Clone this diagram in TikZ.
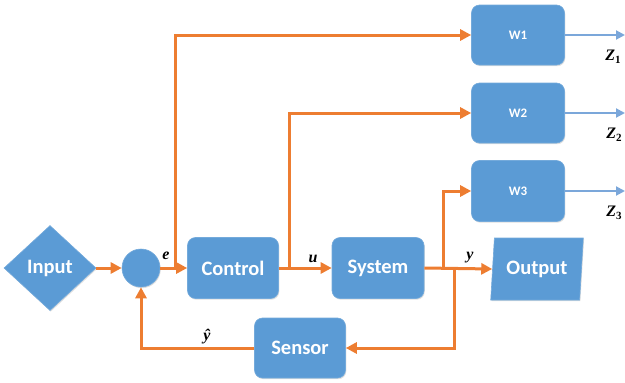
\documentclass[tikz,border=0pt]{standalone}
\usepackage{fontspec}
\setmainfont{Carlito}
\newfontfamily\labfont{Liberation Serif}
\usetikzlibrary{shapes.geometric,arrows.meta,shadows}
\definecolor{boxblue}{HTML}{5B9BD5}
\definecolor{lineorange}{HTML}{ED7D31}
\definecolor{zblue}{HTML}{7BA7DA}
\newcommand{\zsub}[1]{\raisebox{-3.5pt}{\fontsize{11}{11}\selectfont\upshape #1}}
\tikzset{
  blk/.style={fill=boxblue, draw=boxblue!85!white, line width=0.6pt, rounded corners=8pt,
    text=white, font=\fontsize{20.5}{22}\selectfont\bfseries,
    drop shadow={opacity=0.25, shadow xshift=0.8pt, shadow yshift=-1.2pt}},
  bigbox/.style={blk, minimum width=91pt, minimum height=61pt},
  wbox/.style={blk, minimum width=93pt, minimum height=60pt, font=\fontsize{13}{15}\selectfont\bfseries},
  oarrow/.style={draw=lineorange, line width=3pt, -{Triangle[length=11pt,width=11pt]}},
  zarrow/.style={draw=zblue, line width=2pt, -{Triangle[length=9pt,width=9pt]}},
  lab/.style={font=\labfont\fontsize{16}{18}\selectfont\bfseries\itshape, inner sep=0pt},
}
\begin{document}
\begin{tikzpicture}[x=1pt,y=-1pt]
\useasboundingbox (0,0) rectangle (625,383);
% nodes
\node[blk, shape=diamond, rounded corners=0pt, minimum width=92pt, minimum height=85pt, inner sep=0pt, aspect=1.08] (input) at (50,268) {Input};
\node[blk, shape=circle, rounded corners=0pt, minimum size=38pt, inner sep=0pt] (sum) at (141,268) {};
\node[bigbox] (control) at (233,268) {Control};
\node[bigbox, minimum width=92pt] (system) at (378,268) {System};
\node[blk, shape=trapezium, rounded corners=0pt, trapezium left angle=81, trapezium right angle=99, trapezium stretches=true, minimum width=93pt, minimum height=62pt, inner sep=0pt] (output) at (537,269) {Output};
\node[bigbox, minimum height=60pt] (sensor) at (300,348) {Sensor};
\node[wbox] (w1) at (518,35) {W1};
\node[wbox] (w2) at (518,113) {W2};
\node[wbox, minimum height=61pt] (w3) at (518,191) {W3};
% branch coordinates
\coordinate (b1) at (175,268);
\coordinate (b2) at (289,268);
\coordinate (b3) at (443,268);
\coordinate (b4) at (454,268);
\coordinate (z1) at (625,35);
\coordinate (z2) at (625,113);
\coordinate (z3) at (625,191);
% connectors
\draw[oarrow] (input.east) -- (sum.west);
\draw[oarrow] (sum.east) -- (control.west);
\draw[oarrow] (b1) |- (w1.west);
\draw[oarrow] (control.east) -- (system.west);
\draw[oarrow] (b2) |- (w2.west);
\draw[oarrow] (system.east) -- (output.west);
\draw[oarrow] (b3) |- (w3.west);
\draw[oarrow] (b4) |- (sensor.east);
\draw[oarrow] (sensor.west) -| (sum.south);
\draw[zarrow] (w1.east) -- (z1);
\draw[zarrow] (w2.east) -- (z2);
\draw[zarrow] (w3.east) -- (z3);
% labels
\node[lab] (le) at (166,256) {e};
\node[lab] (lu) at (313,259) {u};
\node[lab] (ly) at (470,258) {y};
\node[lab] (lyh) at (207,337) {ŷ};
\node[lab] (lz1) at (613,57) {Z\zsub{1}};
\node[lab] (lz2) at (614,135) {Z\zsub{2}};
\node[lab] (lz3) at (614,213) {Z\zsub{3}};
\end{tikzpicture}
\end{document}
